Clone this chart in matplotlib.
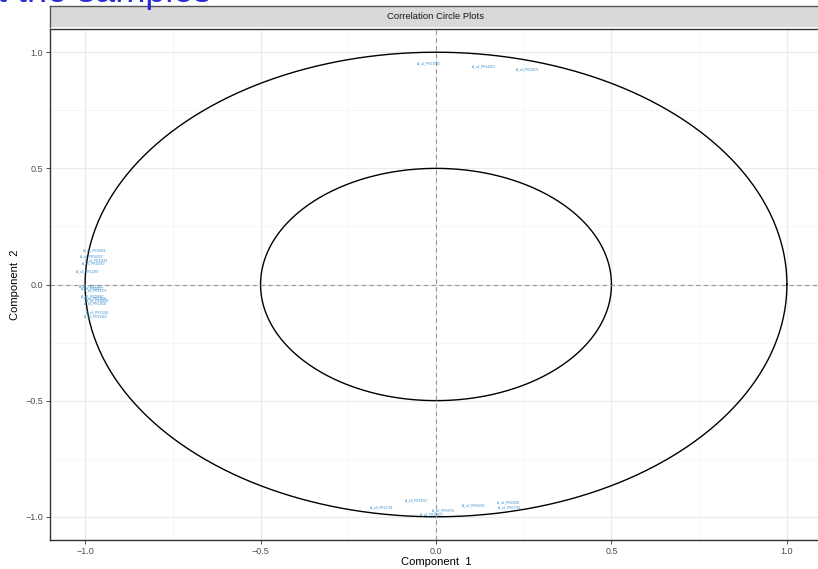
import matplotlib
matplotlib.use("Agg")
import matplotlib.pyplot as plt
import numpy as np

plt.rcParams['font.family'] = ['Liberation Sans', 'DejaVu Sans']

# variable coordinates on the correlation circle
var_names = [
    "A_a3_PR15826", "A_a3_PR16037", "A_a2_PR11183", "A_a2_PR10563", "A_a3_PR11289",
    "A_a2_PR12120", "A_a2_PR10871", "A_a3_PR13172", "A_a2_PR10887", "A_a3_PR11809",
    "A_a2_PR16603", "A_a3_PR12630", "A_a3_PR11246", "A_a3_PR15960",
    "A_a2_PR13590", "A_a2_PR14453", "A_a3_PR13676",
    "A_a3_PR12701", "A_a3_PR13217", "A_a2_PR09796", "A_a2_PR05820",
    "A_a2_PR05690", "A_a2_PR03095", "A_a2_PR01781",
]
comp1 = [
    -0.974, -0.984, -0.970, -0.976, -0.993,
    -0.984, -0.980, -0.970, -0.980, -0.970,
    -0.965, -0.970, -0.965, -0.970,
    -0.023, 0.136, 0.260,
    -0.156, -0.056, 0.019, -0.014,
    0.107, 0.205, 0.208,
]
comp2 = [
    0.146, 0.120, 0.102, 0.089, 0.058,
    -0.010, -0.017, -0.024, -0.053, -0.061,
    -0.070, -0.081, -0.121, -0.139,
    0.950, 0.940, 0.926,
    -0.958, -0.928, -0.971, -0.988,
    -0.951, -0.937, -0.961,
]
radii = [1.0, 0.5]
ticks = [-1.0, -0.5, 0.0, 0.5, 1.0]
tick_labels = ["\u22121.0", "\u22120.5", "0.0", "0.5", "1.0"]

W, H = 818, 569
fig = plt.figure(figsize=(W / 100, H / 100), dpi=100)

# main panel
ax = fig.add_axes([50 / W, 29 / H, 772 / W, 511 / H])
ax.set_xlim(-1.1, 1.1)
ax.set_ylim(-1.1, 1.1)
ax.set_xticks(ticks)
ax.set_yticks(ticks)
ax.set_xticks(np.arange(-1.0, 1.01, 0.25), minor=True)
ax.set_yticks(np.arange(-1.0, 1.01, 0.25), minor=True)
ax.grid(which='major', color='#EBEBEB', lw=0.9)
ax.grid(which='minor', color='#F3F3F3', lw=0.5)
ax.set_axisbelow(True)
ax.tick_params(which='minor', length=0)
ax.tick_params(which='major', length=3, color='#333333', labelsize=6.5,
               labelcolor='#4D4D4D', width=0.6, pad=2)
ax.set_xticklabels(tick_labels)
ax.set_yticklabels(tick_labels)
for s in ax.spines.values():
    s.set_color('#333333')
    s.set_linewidth(1.0)

t = np.linspace(0, 2 * np.pi, 400)
for r in radii:
    ax.plot(r * np.cos(t), r * np.sin(t), color='black', lw=1.0)
ax.axhline(0, color='#999999', lw=0.8, ls=(0, (4, 3)))
ax.axvline(0, color='#999999', lw=0.8, ls=(0, (4, 3)))

for name, x, y in zip(var_names, comp1, comp2):
    ax.text(x, y, name, fontsize=2.3, color='#388ECC', ha='center', va='center')

ax.set_xlabel("Component  1", fontsize=8, labelpad=1)
ax.set_ylabel("Component  2", fontsize=8, labelpad=4)

# facet strip
sax = fig.add_axes([50 / W, 1 - 27 / H, 772 / W, 21 / H])
sax.set_facecolor('#D9D9D9')
sax.set_xticks([])
sax.set_yticks([])
for s in sax.spines.values():
    s.set_color('#555555')
    s.set_linewidth(1.0)
sax.spines['bottom'].set_visible(False)
sax.text(385.5 / 772, 0.5, "Correlation Circle Plots", transform=sax.transAxes,
         ha='center', va='center', fontsize=6.8, color='#1A1A1A')

# title, cut off at the top of the image
fig.text(-3 / W, 1 - 1.5 / H, "t the samples", fontsize=26, color='#2B2BD0',
         ha='left', va='baseline')

fig.savefig("out.png", dpi=100)
